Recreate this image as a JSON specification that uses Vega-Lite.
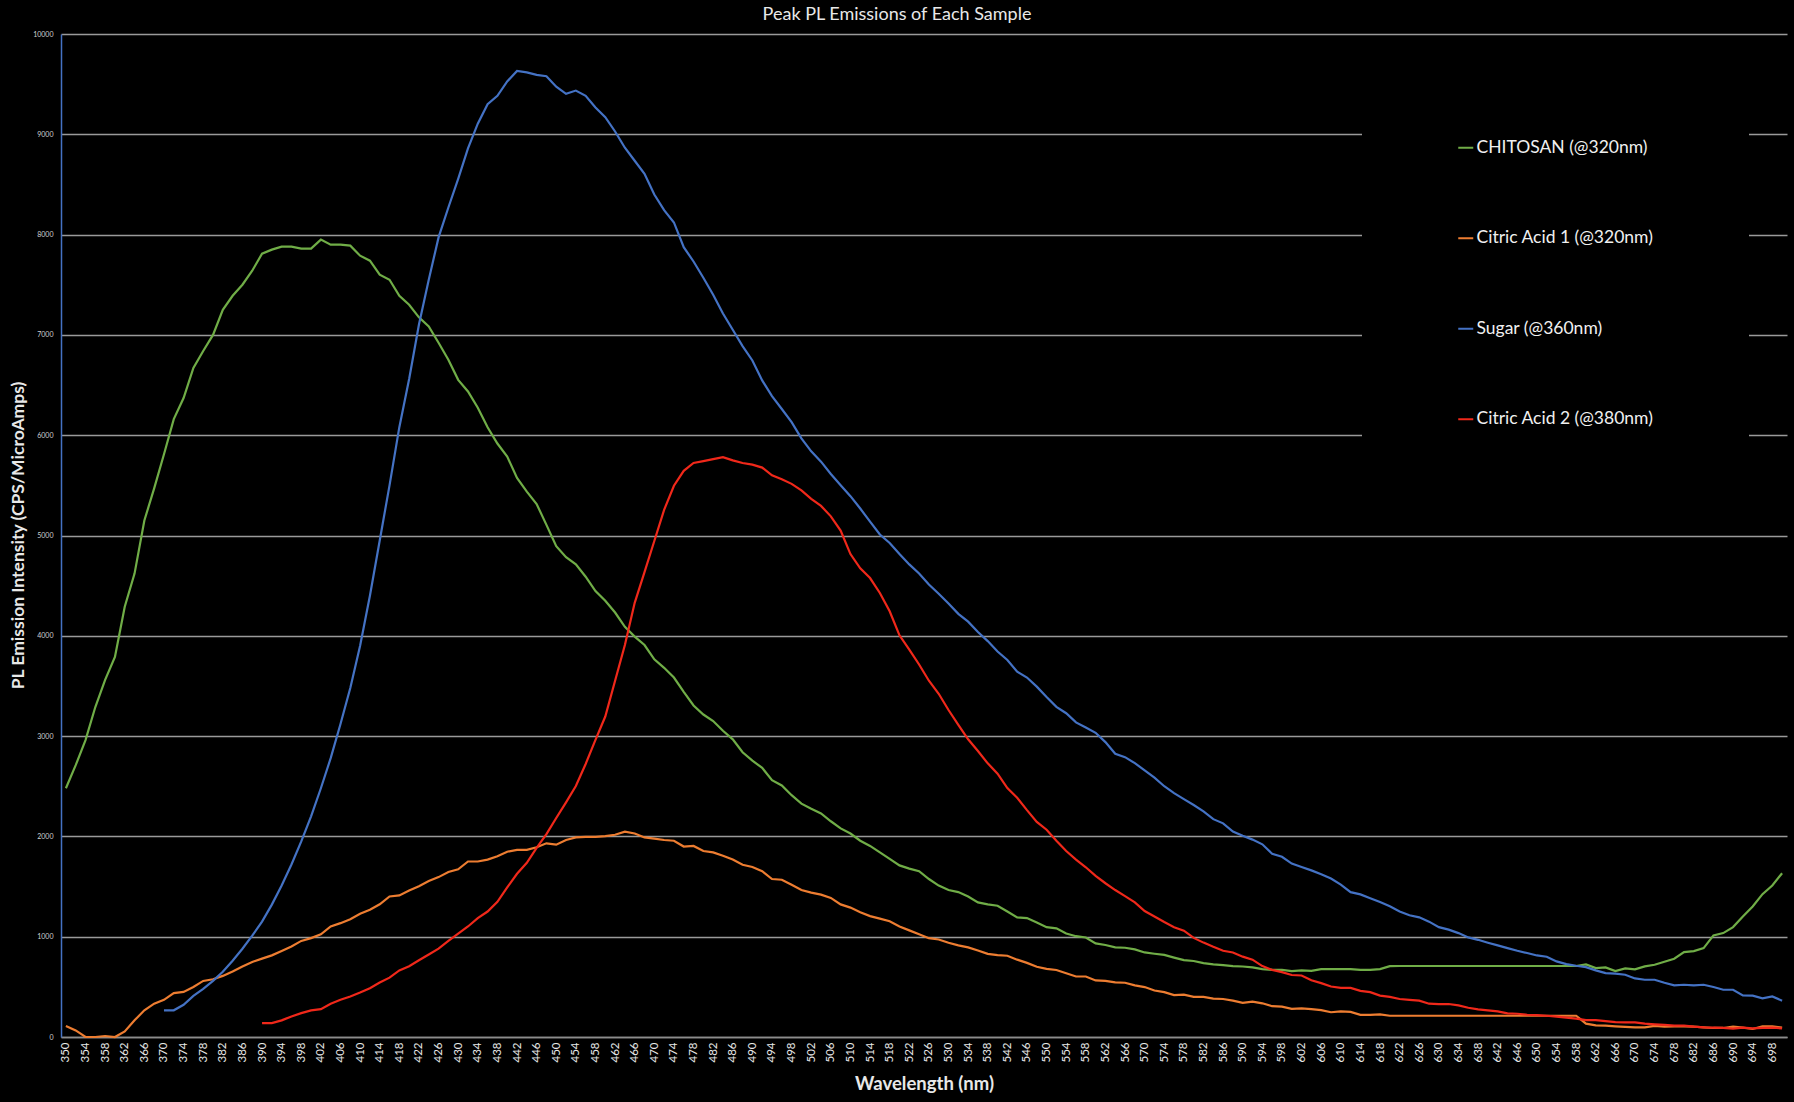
{
  "$schema": "https://vega.github.io/schema/vega-lite/v6.json",
  "width": 1726,
  "height": 1003,
  "autosize": {"type": "none"},
  "padding": {"left": 61, "top": 34, "right": 7, "bottom": 65},
  "background": "black",
  "config": {"view": {"stroke": null}, "font": "Lato"},
  "title": {"text": "Peak PL Emissions of Each Sample", "color": "#e8e8e8", "fontSize": 18, "fontWeight": "normal", "font": "Lato", "offset": 6, "dx": -27, "anchor": "middle"},
  "data": {"values": [
    {"w":350,"c":2480,"a":110},{"w":352,"c":2710,"a":66},{"w":354,"c":2960,"a":0},{"w":356,"c":3290,"a":0},{"w":358,"c":3560,"a":10},{"w":360,"c":3790,"a":0},{"w":362,"c":4290,"a":55},{"w":364,"c":4620,"a":166},{"w":366,"c":5150,"a":266},{"w":368,"c":5470,"a":332},
    {"w":370,"c":5810,"a":371,"s":266},{"w":372,"c":6160,"a":437,"s":266},{"w":374,"c":6370,"a":449,"s":321},{"w":376,"c":6670,"a":498,"s":410},{"w":378,"c":6840,"a":559,"s":480},{"w":380,"c":7000,"a":576,"s":560},{"w":382,"c":7250,"a":609,"s":650},{"w":384,"c":7390,"a":653,"s":760},{"w":386,"c":7500,"a":703,"s":880},{"w":388,"c":7640,"a":748,"s":1010},
    {"w":390,"c":7810,"a":781,"s":1150,"r":138},{"w":392,"c":7850,"a":814,"s":1320,"r":138},{"w":394,"c":7880,"a":858,"s":1510,"r":166},{"w":396,"c":7880,"a":903,"s":1720,"r":205},{"w":398,"c":7860,"a":958,"s":1950,"r":238},{"w":400,"c":7860,"a":986,"s":2200,"r":266},{"w":402,"c":7950,"a":1024,"s":2480,"r":277},{"w":404,"c":7900,"a":1102,"s":2780,"r":332},{"w":406,"c":7900,"a":1135,"s":3120,"r":371},{"w":408,"c":7890,"a":1174,"s":3480,"r":404},
    {"w":410,"c":7790,"a":1229,"s":3900,"r":443},{"w":412,"c":7740,"a":1268,"s":4400,"r":487},{"w":414,"c":7600,"a":1323,"s":4950,"r":543},{"w":416,"c":7550,"a":1401,"s":5500,"r":592},{"w":418,"c":7390,"a":1412,"s":6080,"r":664},{"w":420,"c":7300,"a":1460,"s":6560,"r":706},{"w":422,"c":7175,"a":1504,"s":7103,"r":765},{"w":424,"c":7084,"a":1555,"s":7550,"r":823},{"w":426,"c":6922,"a":1594,"s":7972,"r":881},{"w":428,"c":6753,"a":1646,"s":8270,"r":959},
    {"w":430,"c":6552,"a":1672,"s":8555,"r":1030},{"w":432,"c":6436,"a":1750,"s":8860,"r":1102},{"w":434,"c":6274,"a":1750,"s":9106,"r":1186},{"w":436,"c":6079,"a":1769,"s":9300,"r":1251},{"w":438,"c":5917,"a":1802,"s":9384,"r":1348},{"w":440,"c":5788,"a":1847,"s":9527,"r":1491},{"w":442,"c":5574,"a":1866,"s":9631,"r":1627},{"w":444,"c":5437,"a":1866,"s":9618,"r":1737},{"w":446,"c":5314,"a":1892,"s":9592,"r":1886},{"w":448,"c":5106,"a":1931,"s":9579,"r":2022},
    {"w":450,"c":4893,"a":1918,"s":9475,"r":2184},{"w":452,"c":4783,"a":1964,"s":9404,"r":2340},{"w":454,"c":4712,"a":1990,"s":9436,"r":2502},{"w":456,"c":4589,"a":1996,"s":9384,"r":2722},{"w":458,"c":4446,"a":1996,"s":9268,"r":2962},{"w":460,"c":4349,"a":2003,"s":9171,"r":3195},{"w":462,"c":4232,"a":2016,"s":9028,"r":3552},{"w":464,"c":4090,"a":2048,"s":8866,"r":3908},{"w":466,"c":3992,"a":2029,"s":8736,"r":4329},{"w":468,"c":3908,"a":1990,"s":8607,"r":4634},
    {"w":470,"c":3766,"a":1977,"s":8399,"r":4945},{"w":472,"c":3681,"a":1964,"s":8244,"r":5256},{"w":474,"c":3584,"a":1957,"s":8121,"r":5496},{"w":476,"c":3441,"a":1899,"s":7874,"r":5645},{"w":478,"c":3305,"a":1905,"s":7732,"r":5723},{"w":480,"c":3215,"a":1854,"s":7570,"r":5742},{"w":482,"c":3150,"a":1841,"s":7401,"r":5762},{"w":484,"c":3053,"a":1808,"s":7213,"r":5781},{"w":486,"c":2968,"a":1769,"s":7051,"r":5749},{"w":488,"c":2839,"a":1717,"s":6889,"r":5723},
    {"w":490,"c":2755,"a":1695,"s":6745,"r":5706},{"w":492,"c":2683,"a":1653,"s":6546,"r":5677},{"w":494,"c":2560,"a":1575,"s":6390,"r":5600},{"w":496,"c":2508,"a":1568,"s":6261,"r":5561},{"w":498,"c":2411,"a":1517,"s":6131,"r":5515},{"w":500,"c":2327,"a":1465,"s":5969,"r":5450},{"w":502,"c":2275,"a":1439,"s":5839,"r":5366},{"w":504,"c":2229,"a":1419,"s":5736,"r":5295},{"w":506,"c":2151,"a":1387,"s":5613,"r":5191},{"w":508,"c":2080,"a":1322,"s":5502,"r":5049},
    {"w":510,"c":2029,"a":1290,"s":5392,"r":4815},{"w":512,"c":1957,"a":1244,"s":5269,"r":4673},{"w":514,"c":1905,"a":1205,"s":5139,"r":4576},{"w":516,"c":1841,"a":1180,"s":5010,"r":4427},{"w":518,"c":1776,"a":1154,"s":4926,"r":4245},{"w":520,"c":1711,"a":1102,"s":4815,"r":4005},{"w":522,"c":1679,"a":1063,"s":4712,"r":3863},{"w":524,"c":1653,"a":1024,"s":4621,"r":3714},{"w":526,"c":1575,"a":985,"s":4511,"r":3552},{"w":528,"c":1510,"a":972,"s":4420,"r":3422},
    {"w":530,"c":1465,"a":940,"s":4323,"r":3260},{"w":532,"c":1445,"a":914,"s":4219,"r":3111},{"w":534,"c":1400,"a":894,"s":4141,"r":2968},{"w":536,"c":1342,"a":862,"s":4038,"r":2852},{"w":538,"c":1322,"a":829,"s":3947,"r":2728},{"w":540,"c":1309,"a":816,"s":3843,"r":2625},{"w":542,"c":1251,"a":810,"s":3759,"r":2482},{"w":544,"c":1193,"a":771,"s":3642,"r":2385},{"w":546,"c":1186,"a":739,"s":3584,"r":2262},{"w":548,"c":1141,"a":700,"s":3493,"r":2145},
    {"w":550,"c":1095,"a":680,"s":3390,"r":2067},{"w":552,"c":1083,"a":668,"s":3292,"r":1957},{"w":554,"c":1031,"a":635,"s":3228,"r":1854},{"w":556,"c":1005,"a":603,"s":3137,"r":1769},{"w":558,"c":992,"a":603,"s":3085,"r":1692},{"w":560,"c":933,"a":564,"s":3033,"r":1607},{"w":562,"c":917,"a":560,"s":2940,"r":1533},{"w":564,"c":894,"a":545,"s":2824,"r":1465},{"w":566,"c":890,"a":541,"s":2790,"r":1405},{"w":568,"c":873,"a":515,"s":2730,"r":1342},
    {"w":570,"c":843,"a":498,"s":2658,"r":1256},{"w":572,"c":830,"a":464,"s":2585,"r":1201},{"w":574,"c":818,"a":447,"s":2500,"r":1146},{"w":576,"c":792,"a":417,"s":2432,"r":1095},{"w":578,"c":767,"a":422,"s":2372,"r":1060},{"w":580,"c":758,"a":400,"s":2313,"r":988},{"w":582,"c":737,"a":400,"s":2249,"r":941},{"w":584,"c":724,"a":383,"s":2172,"r":899},{"w":586,"c":716,"a":379,"s":2130,"r":860},{"w":588,"c":707,"a":362,"s":2049,"r":843},
    {"w":590,"c":703,"a":341,"s":2006,"r":801},{"w":592,"c":694,"a":353,"s":1968,"r":771},{"w":594,"c":677,"a":336,"s":1921,"r":707},{"w":596,"c":669,"a":307,"s":1827,"r":669},{"w":598,"c":669,"a":302,"s":1797,"r":647},{"w":600,"c":656,"a":281,"s":1729,"r":618},{"w":602,"c":664,"a":285,"s":1695,"r":613},{"w":604,"c":660,"a":277,"s":1661,"r":566},{"w":606,"c":677,"a":268,"s":1623,"r":537},{"w":608,"c":677,"a":247,"s":1580,"r":503},
    {"w":610,"c":677,"a":256,"s":1520,"r":490},{"w":612,"c":677,"a":251,"s":1444,"r":490},{"w":614,"c":669,"a":221,"s":1422,"r":460},{"w":616,"c":669,"a":221,"s":1384,"r":447},{"w":618,"c":677,"a":226,"s":1346,"r":413},{"w":620,"c":707,"a":212,"s":1303,"r":400},{"w":622,"c":708,"a":212,"s":1252,"r":379},{"w":624,"c":708,"a":212,"s":1214,"r":371},{"w":626,"c":708,"a":212,"s":1193,"r":362},{"w":628,"c":708,"a":212,"s":1150,"r":332},
    {"w":630,"c":708,"a":212,"s":1095,"r":328},{"w":632,"c":708,"a":212,"s":1070,"r":329},{"w":634,"c":708,"a":212,"s":1036,"r":315},{"w":636,"c":708,"a":212,"s":993,"r":292},{"w":638,"c":708,"a":212,"s":969,"r":276},{"w":640,"c":708,"a":212,"s":940,"r":266},{"w":642,"c":708,"a":212,"s":913,"r":256},{"w":644,"c":708,"a":212,"s":886,"r":236},{"w":646,"c":708,"a":212,"s":860,"r":232},{"w":648,"c":708,"a":212,"s":837,"r":222},
    {"w":650,"c":708,"a":212,"s":813,"r":219},{"w":652,"c":708,"a":212,"s":800,"r":212},{"w":654,"c":708,"a":212,"s":754,"r":203},{"w":656,"c":708,"a":212,"s":727,"r":193},{"w":658,"c":708,"a":212,"s":710,"r":183},{"w":660,"c":724,"a":133,"s":697,"r":169},{"w":662,"c":687,"a":116,"s":664,"r":169},{"w":664,"c":694,"a":113,"s":637,"r":159},{"w":666,"c":657,"a":106,"s":631,"r":149},{"w":668,"c":684,"a":100,"s":621,"r":146},
    {"w":670,"c":674,"a":96,"s":584,"r":146},{"w":672,"c":704,"a":96,"s":571,"r":133},{"w":674,"c":720,"a":110,"s":571,"r":126},{"w":676,"c":750,"a":103,"s":541,"r":120},{"w":678,"c":780,"a":106,"s":515,"r":113},{"w":680,"c":846,"a":106,"s":521,"r":113},{"w":682,"c":857,"a":103,"s":515,"r":103},{"w":684,"c":886,"a":96,"s":521,"r":96},{"w":686,"c":1013,"a":90,"s":498,"r":93},{"w":688,"c":1036,"a":90,"s":471,"r":90},
    {"w":690,"c":1096,"a":103,"s":471,"r":83},{"w":692,"c":1202,"a":93,"s":415,"r":93},{"w":694,"c":1301,"a":80,"s":412,"r":86},{"w":696,"c":1424,"a":106,"s":385,"r":90},{"w":698,"c":1511,"a":106,"s":405,"r":93},{"w":700,"c":1633,"a":93,"s":362,"r":86}
  ]},
  "transform": [
    {"fold": ["c", "a", "s", "r"], "as": ["k", "v"]},
    {"filter": "isValid(datum.v)"}
  ],
  "mark": {"type": "line", "strokeWidth": 2.2},
  "encoding": {
    "x": {
      "field": "w", "type": "quantitative",
      "scale": {"domain": [349, 701], "nice": false, "zero": false},
      "axis": {
        "values": [350,354,358,362,366,370,374,378,382,386,390,394,398,402,406,410,414,418,422,426,430,434,438,442,446,450,454,458,462,466,470,474,478,482,486,490,494,498,502,506,510,514,518,522,526,530,534,538,542,546,550,554,558,562,566,570,574,578,582,586,590,594,598,602,606,610,614,618,622,626,630,634,638,642,646,650,654,658,662,666,670,674,678,682,686,690,694,698],
        "labelAngle": 270, "labelColor": "#e8e8e8", "labelFontSize": 11.5, "labelPadding": 5,
        "labelFlush": false, "labelOverlap": false, "ticks": false, "grid": false,
        "domainColor": "#8c8c8c", "domainWidth": 1.5,
        "title": "Wavelength (nm)", "titleColor": "#e8e8e8", "titleFontSize": 18.5, "titleFontWeight": "bold",
        "titleX": 863, "titleY": 46, "titleBaseline": "middle", "titleAnchor": "middle"
      }
    },
    "y": {
      "field": "v", "type": "quantitative",
      "scale": {"domain": [0, 10000], "nice": false},
      "axis": {
        "values": [0,1000,2000,3000,4000,5000,6000,7000,8000,9000,10000],
        "format": "d", "grid": true, "gridColor": "#9a9a9a", "gridWidth": 1.3,
        "domainColor": "#4472c4", "domainWidth": 1.5, "ticks": false,
        "labelFontSize": 7, "labelColor": "#d0d0d0", "labelPadding": 8,
        "title": "PL Emission Intensity (CPS/MicroAmps)", "titleColor": "#e8e8e8", "titleFontSize": 17.5, "titleFontWeight": "bold",
        "titleX": -43, "titleY": 501, "titleBaseline": "middle", "titleAnchor": "middle"
      }
    },
    "color": {
      "field": "k", "type": "nominal",
      "scale": {"domain": ["c", "a", "s", "r"], "range": ["#70ad47", "#ed7d31", "#4472c4", "#f0281a"]},
      "legend": {
        "title": null, "orient": "none", "legendX": 1301, "legendY": 10, "direction": "vertical",
        "fillColor": "black", "padding": 95, "rowPadding": 71.5,
        "symbolType": "stroke", "symbolSize": 225, "symbolStrokeWidth": 2,
        "labelColor": "#f0f0f0", "labelFontSize": 17.5, "labelFont": "Lato", "labelOffset": 2, "labelLimit": 0,
        "labelExpr": "datum.label == 'c' ? 'CHITOSAN (@320nm)' : datum.label == 'a' ? 'Citric Acid 1 (@320nm)' : datum.label == 's' ? 'Sugar (@360nm)' : 'Citric Acid 2 (@380nm)'"
      }
    }
  }
}
